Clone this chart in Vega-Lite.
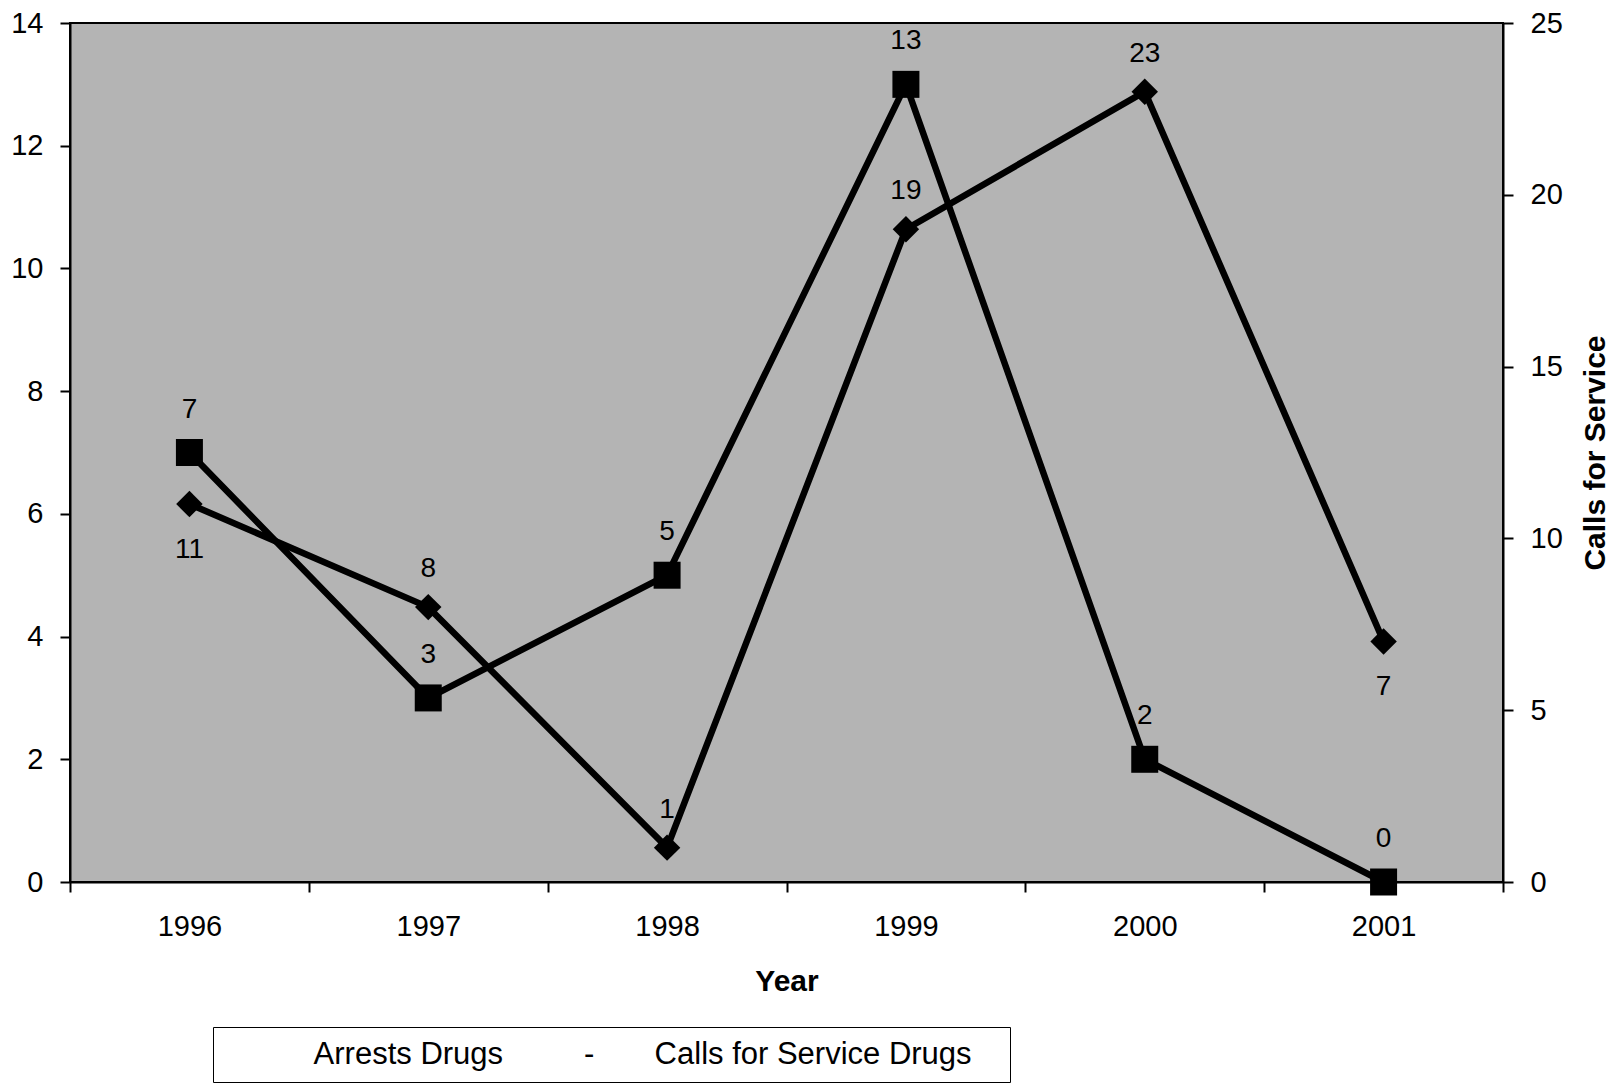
{
  "$schema": "https://vega.github.io/schema/vega-lite/v6.json",
  "width": 1433,
  "height": 859,
  "autosize": {"type": "none"},
  "padding": {"left": 70, "top": 23, "right": 120, "bottom": 203},
  "background": "white",
  "config": {
    "font": "Liberation Sans",
    "view": {"fill": "#b4b4b4", "stroke": "black", "strokeWidth": 2},
    "axis": {
      "domainColor": "black", "domainWidth": 2,
      "tickColor": "black", "tickWidth": 2, "tickSize": 10,
      "labelColor": "black", "labelFontSize": 29, "labelFont": "Liberation Sans",
      "titleColor": "black", "titleFont": "Liberation Sans", "titleFontSize": 30, "titleFontWeight": "bold",
      "grid": false
    },
    "legend": {
      "orient": "none", "legendX": 143, "legendY": 1004,
      "direction": "horizontal",
      "labelFontSize": 31, "labelFont": "Liberation Sans", "labelColor": "black", "labelLimit": 800,
      "strokeColor": "black", "fillColor": "white", "padding": 12,
      "symbolOpacity": 0, "symbolSize": 4, "labelOffset": 49, "columnPadding": 0
    }
  },
  "data": {
    "values": [
      {"Year": "1996", "Series": "Arrests Drugs", "Value": 7},
      {"Year": "1997", "Series": "Arrests Drugs", "Value": 3},
      {"Year": "1998", "Series": "Arrests Drugs", "Value": 5},
      {"Year": "1999", "Series": "Arrests Drugs", "Value": 13},
      {"Year": "2000", "Series": "Arrests Drugs", "Value": 2},
      {"Year": "2001", "Series": "Arrests Drugs", "Value": 0},
      {"Year": "1996", "Series": "Calls for Service Drugs", "Value": 11},
      {"Year": "1997", "Series": "Calls for Service Drugs", "Value": 8},
      {"Year": "1998", "Series": "Calls for Service Drugs", "Value": 1},
      {"Year": "1999", "Series": "Calls for Service Drugs", "Value": 19},
      {"Year": "2000", "Series": "Calls for Service Drugs", "Value": 23},
      {"Year": "2001", "Series": "Calls for Service Drugs", "Value": 7}
    ]
  },
  "encoding": {
    "x": {
      "field": "Year", "type": "ordinal",
      "scale": {"type": "band", "paddingInner": 0, "paddingOuter": 0},
      "axis": {"title": "Year", "labelAngle": 0, "tickBand": "extent", "labelPadding": 20, "titlePadding": 25}
    },
    "color": {
      "field": "Series", "type": "nominal",
      "scale": {"domain": ["Arrests Drugs", "Calls for Service Drugs"], "range": ["black", "black"]},
      "legend": {
        "title": null,
        "labelExpr": "datum.label == 'Calls for Service Drugs' ? '-\u00a0\u00a0\u00a0\u00a0\u00a0\u00a0\u00a0Calls for Service Drugs\u00a0\u00a0\u00a0\u200b' : '\u200b\u00a0' + datum.label"
      }
    }
  },
  "layer": [
    {
      "transform": [{"filter": "datum.Series == 'Arrests Drugs'"}],
      "encoding": {
        "y": {
          "field": "Value", "type": "quantitative",
          "scale": {"domain": [0, 14], "nice": false},
          "axis": {"orient": "left", "title": null, "values": [0, 2, 4, 6, 8, 10, 12, 14], "labelPadding": 17}
        }
      },
      "layer": [
        {"mark": {"type": "line", "strokeWidth": 6.5}},
        {"mark": {"type": "point", "shape": "square", "filled": true, "size": 729, "opacity": 1}},
        {"mark": {"type": "text", "fontSize": 28, "dy": -43, "align": "center", "baseline": "middle"}, "encoding": {"text": {"field": "Value", "type": "quantitative"}}}
      ]
    },
    {
      "transform": [{"filter": "datum.Series == 'Calls for Service Drugs'"}],
      "encoding": {
        "y": {
          "field": "Value", "type": "quantitative",
          "scale": {"domain": [0, 25], "nice": false},
          "axis": {"orient": "right", "title": "Calls for Service", "values": [0, 5, 10, 15, 20, 25], "labelPadding": 17, "titleAngle": 270, "titlePadding": 48}
        }
      },
      "layer": [
        {"mark": {"type": "line", "strokeWidth": 6.5}},
        {"mark": {"type": "point", "shape": "diamond", "filled": true, "size": 700, "opacity": 1}},
        {
          "transform": [{"filter": "datum.Year != '1996' && datum.Year != '2001'"}],
          "mark": {"type": "text", "fontSize": 28, "dy": -38, "align": "center", "baseline": "middle"},
          "encoding": {"text": {"field": "Value", "type": "quantitative"}}
        },
        {
          "transform": [{"filter": "datum.Year == '1996' || datum.Year == '2001'"}],
          "mark": {"type": "text", "fontSize": 28, "dy": 46, "align": "center", "baseline": "middle"},
          "encoding": {"text": {"field": "Value", "type": "quantitative"}}
        }
      ]
    }
  ],
  "resolve": {"scale": {"y": "independent"}}
}
